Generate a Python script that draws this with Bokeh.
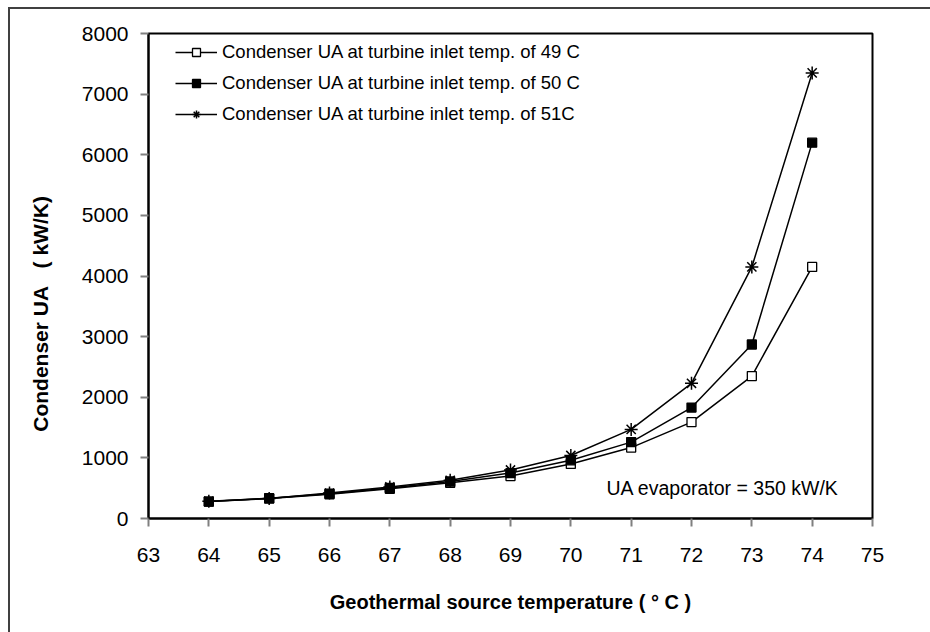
from bokeh.plotting import figure
from bokeh.models import (Label, Legend, LegendItem, Range1d,
                          FixedTicker, ColumnDataSource)
from bokeh.embed import file_html
from bokeh.resources import INLINE

# Geothermal source temperature (deg C)
source_temp = [64, 65, 66, 67, 68, 69, 70, 71, 72, 73, 74]

# Condenser UA (kW/K) for each turbine inlet temperature
ua_inlet_49 = [280, 330, 400, 490, 590, 700, 900, 1170, 1590, 2350, 4150]
ua_inlet_50 = [280, 335, 410, 505, 610, 750, 960, 1260, 1830, 2870, 6200]
ua_inlet_51 = [285, 330, 420, 520, 630, 800, 1040, 1470, 2230, 4150, 7350]

series_labels = [
    "Condenser UA at turbine inlet temp. of 49 C",
    "Condenser UA at turbine inlet temp. of 50 C",
    "Condenser UA at turbine inlet temp. of 51C",
]

x_ticks = list(range(63, 76))
y_ticks = list(range(0, 8001, 1000))

FONT = "Liberation Sans"
NBSP = "\u00a0"

p = figure(width=930, height=632, output_backend="svg", toolbar_location=None,
           x_range=Range1d(63, 75), y_range=Range1d(0, 8000),
           min_border_left=148, min_border_top=33,
           min_border_right=58, min_border_bottom=114)

p.background_fill_color = "white"
p.border_fill_alpha = 0
p.grid.visible = False
p.outline_line_color = "black"
p.outline_line_width = 2

for ax in (p.xaxis[0], p.yaxis[0]):
    ax.axis_line_color = "black"
    ax.axis_line_width = 2
    ax.major_tick_line_color = "#808080"
    ax.major_tick_line_width = 2
    ax.major_tick_out = 8
    ax.major_tick_in = 0
    ax.minor_tick_line_color = None
    ax.major_label_text_font = FONT
    ax.major_label_text_font_size = "21px"
    ax.major_label_text_color = "black"
    ax.axis_label_text_font = FONT
    ax.axis_label_text_font_style = "bold"
    ax.axis_label_text_color = "black"

p.xaxis.axis_label_text_font_size = "20px"
p.yaxis.axis_label_text_font_size = "21px"

p.xaxis.ticker = FixedTicker(ticks=x_ticks)
p.yaxis.ticker = FixedTicker(ticks=y_ticks)
p.xaxis.major_label_standoff = 21
p.yaxis.major_label_standoff = 12

p.xaxis.axis_label = "Geothermal source temperature ( \u00b0 C )"
p.xaxis.axis_label_standoff = 26

# wide gaps inside the title; trailing no-break spaces push the rotated
# title toward the bottom of the axis
p.yaxis.axis_label = ("Condenser UA" + NBSP * 3 + "(" + NBSP + "kW/K)"
                      + NBSP * 13)
p.yaxis.axis_label_standoff = 27

src = ColumnDataSource(dict(t=source_temp, a=ua_inlet_49, b=ua_inlet_50, c=ua_inlet_51))

l1 = p.line("t", "a", source=src, line_color="black", line_width=1.5)
m1 = p.scatter("t", "a", source=src, marker="square", size=9,
               fill_color="white", line_color="black", line_width=1.3)
l2 = p.line("t", "b", source=src, line_color="black", line_width=1.5)
m2 = p.scatter("t", "b", source=src, marker="square", size=9,
               fill_color="black", line_color="black", line_width=1.3)
l3 = p.line("t", "c", source=src, line_color="black", line_width=1.5)
m3 = p.scatter("t", "c", source=src, marker="asterisk", size=13,
               line_color="black", line_width=1.5)

legend = Legend(items=[
    LegendItem(label=series_labels[0], renderers=[l1, m1]),
    LegendItem(label=series_labels[1], renderers=[l2, m2]),
    LegendItem(label=series_labels[2], renderers=[l3, m3]),
], location=(17, 383))
legend.border_line_alpha = 0
legend.background_fill_alpha = 0
legend.padding = 10
legend.margin = 0
legend.spacing = 9
legend.glyph_width = 42
legend.glyph_height = 20
legend.label_height = 20
legend.label_standoff = 5
legend.label_text_font = FONT
legend.label_text_font_size = "18.5px"
legend.label_text_color = "black"
p.add_layout(legend)

p.add_layout(Label(x=70.59, y=495, text="UA evaporator = 350 kW/K",
                   text_font=FONT, text_font_size="19.5px", text_color="black",
                   text_baseline="middle", text_align="left"))

# outer frame (left and top edges) around the whole drawing
p.styles = {
    "background-color": "white",
    "box-shadow": "inset 8px 7px 0 0 white, inset 10px 9px 0 0 #404040",
}

open("out.html", "w").write(file_html(p, INLINE))
